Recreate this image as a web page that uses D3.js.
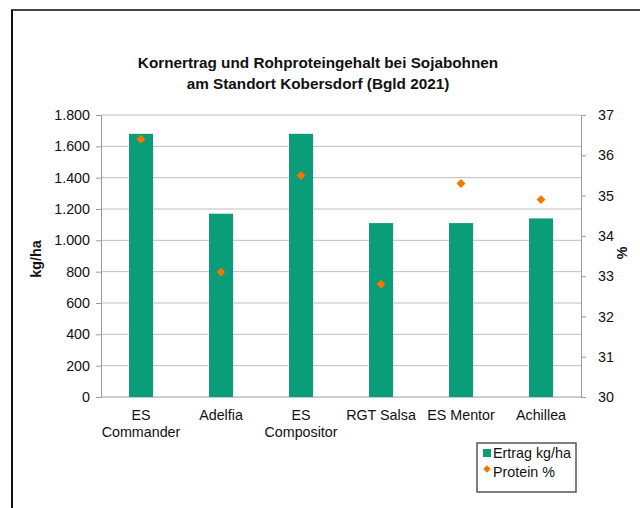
<!DOCTYPE html>
<html>
<head>
<meta charset="utf-8">
<script src="https://cdn.jsdelivr.net/npm/d3@7"></script>
<style>
  body { margin: 0; background: #fff; }
  text { font-family: "Liberation Sans", Arial, sans-serif; fill: #111; }
</style>
</head>
<body>
<div id="chart"></div>
<script>
var sorten = ["ES Commander", "Adelfia", "ES Compositor", "RGT Salsa", "ES Mentor", "Achillea"];
var ertrag = [1680, 1170, 1680, 1110, 1110, 1140];
var protein = [36.4, 33.1, 35.5, 32.8, 35.3, 34.9];
var ertragTicks = [0, 200, 400, 600, 800, 1000, 1200, 1400, 1600, 1800];
var proteinTicks = [30, 31, 32, 33, 34, 35, 36, 37];

var width = 640, height = 508;
var margin = {top: 115, right: 59, bottom: 111, left: 101};

var svg = d3.select("#chart")
    .append("svg")
    .attr("width", width)
    .attr("height", height);

// outer frame (only top and left visible)
svg.append("line").attr("x1", 11).attr("x2", width).attr("y1", 10).attr("y2", 10)
    .attr("stroke", "#444").attr("stroke-width", 2);
svg.append("line").attr("x1", 12).attr("x2", 12).attr("y1", 10).attr("y2", height)
    .attr("stroke", "#111").attr("stroke-width", 2);

var x = d3.scaleBand()
    .domain(sorten)
    .range([margin.left, width - margin.right])
    .paddingInner(0.7)
    .paddingOuter(0.35);

var yL = d3.scaleLinear().domain([0, 1800]).range([height - margin.bottom, margin.top]);
var yR = d3.scaleLinear().domain([30, 37]).range([height - margin.bottom, margin.top]);

var fmt = d3.formatLocale({decimal: ",", thousands: ".", grouping: [3], currency: ["", "€"]}).format(",");

// diamond marker = rotated square
var diamond = d3.symbol().type(d3.symbolSquare).size(40);

// gridlines
svg.append("g")
    .selectAll("line")
    .data(ertragTicks.slice(1))
    .enter()
    .append("line")
    .attr("x1", margin.left)
    .attr("x2", width - margin.right)
    .attr("y1", function(d) { return yL(d); })
    .attr("y2", function(d) { return yL(d); })
    .attr("stroke", "#bdbdbd")
    .attr("stroke-width", 1);

// left axis
var axL = svg.append("g")
    .attr("transform", "translate(" + margin.left + ",0)")
    .call(d3.axisLeft(yL).tickValues(ertragTicks).tickFormat(fmt).tickSize(5).tickPadding(6));
axL.select(".domain").attr("stroke", "#9a9a9a");
axL.selectAll(".tick line").attr("stroke", "#9a9a9a");
axL.selectAll("text").style("font-size", "14.3px").attr("fill", "#111");

// right axis
var axR = svg.append("g")
    .attr("transform", "translate(" + (width - margin.right) + ",0)")
    .call(d3.axisRight(yR).tickValues(proteinTicks).tickFormat(d3.format("d")).tickSize(5).tickPadding(12));
axR.select(".domain").attr("stroke", "#9a9a9a");
axR.selectAll(".tick line").attr("stroke", "#9a9a9a");
axR.selectAll("text").style("font-size", "14.3px").attr("fill", "#111");

// bottom axis
svg.append("line")
    .attr("x1", margin.left).attr("x2", width - margin.right)
    .attr("y1", yL(0)).attr("y2", yL(0))
    .attr("stroke", "#9a9a9a");

// bars
svg.append("g")
    .selectAll("rect")
    .data(ertrag)
    .enter()
    .append("rect")
    .attr("x", function(d, i) { return x(sorten[i]); })
    .attr("y", function(d) { return yL(d); })
    .attr("width", x.bandwidth())
    .attr("height", function(d) { return yL(0) - yL(d); })
    .attr("fill", "#0b9c7a");

// protein markers
svg.append("g")
    .selectAll("path")
    .data(protein)
    .enter()
    .append("path")
    .attr("d", diamond)
    .attr("transform", function(d, i) {
        return "translate(" + (x(sorten[i]) + x.bandwidth() / 2) + "," + yR(d) + ") rotate(45)";
    })
    .attr("fill", "#f07800");

// category labels
var catLabels = svg.append("g")
    .selectAll("text")
    .data(sorten)
    .enter()
    .append("text")
    .attr("text-anchor", "middle")
    .style("font-size", "14.3px")
    .attr("transform", function(d) {
        return "translate(" + (x(d) + x.bandwidth() / 2) + "," + 420 + ")";
    });
catLabels.each(function(d) {
    var parts = (d === "ES Commander" || d === "ES Compositor") ? d.split(" ") : [d];
    var t = d3.select(this);
    parts.forEach(function(p, k) {
        t.append("tspan").attr("x", 0).attr("dy", k === 0 ? 0 : 17).text(p);
    });
});

// title
svg.append("text")
    .attr("x", 318).attr("y", 68)
    .attr("text-anchor", "middle")
    .style("font-size", "15.3px").style("font-weight", "bold")
    .text("Kornertrag und Rohproteingehalt bei Sojabohnen");
svg.append("text")
    .attr("x", 318).attr("y", 89)
    .attr("text-anchor", "middle")
    .style("font-size", "15.3px").style("font-weight", "bold")
    .text("am Standort Kobersdorf (Bgld 2021)");

// axis titles
svg.append("text")
    .attr("transform", "translate(41,259) rotate(-90)")
    .attr("text-anchor", "middle")
    .style("font-size", "14.3px").style("font-weight", "bold")
    .text("kg/ha");
svg.append("text")
    .attr("transform", "translate(627,253) rotate(-90)")
    .attr("text-anchor", "middle")
    .style("font-size", "14.3px").style("font-weight", "bold")
    .text("%");

// legend
var lg = svg.append("g").attr("transform", "translate(477,443)");
lg.append("rect").attr("width", 99).attr("height", 49)
    .attr("fill", "#fff").attr("stroke", "#555").attr("stroke-width", 1.5);
lg.append("rect").attr("x", 6).attr("y", 6).attr("width", 8).attr("height", 8).attr("fill", "#0b9c7a");
lg.append("path").attr("d", d3.symbol().type(d3.symbolSquare).size(30))
    .attr("transform", "translate(10,26) rotate(45)").attr("fill", "#f07800");
lg.append("text").attr("x", 16).attr("y", 15).style("font-size", "14.3px").text("Ertrag kg/ha");
lg.append("text").attr("x", 16).attr("y", 34).style("font-size", "14.3px").text("Protein %");
</script>
</body>
</html>
